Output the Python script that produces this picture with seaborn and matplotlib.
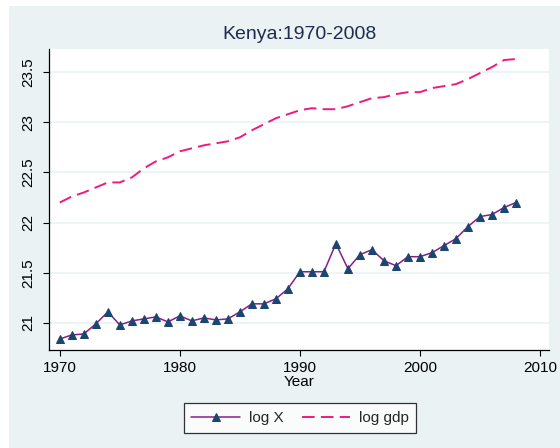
import matplotlib
matplotlib.use("Agg")
import matplotlib.pyplot as plt
import seaborn as sns
import pandas as pd
from matplotlib.patches import Rectangle

years = [1970, 1971, 1972, 1973, 1974, 1975, 1976, 1977, 1978, 1979,
         1980, 1981, 1982, 1983, 1984, 1985, 1986, 1987, 1988, 1989,
         1990, 1991, 1992, 1993, 1994, 1995, 1996, 1997, 1998, 1999,
         2000, 2001, 2002, 2003, 2004, 2005, 2006, 2007, 2008]
log_x = [20.84, 20.88, 20.89, 20.99, 21.11, 20.98, 21.02, 21.04, 21.06, 21.01,
         21.07, 21.02, 21.05, 21.03, 21.04, 21.11, 21.19, 21.19, 21.24, 21.34,
         21.51, 21.51, 21.51, 21.79, 21.54, 21.68, 21.73, 21.62, 21.57, 21.66,
         21.66, 21.70, 21.77, 21.84, 21.96, 22.06, 22.08, 22.15, 22.20]
log_gdp = [22.20, 22.26, 22.30, 22.35, 22.40, 22.40, 22.45, 22.54, 22.61, 22.65,
           22.71, 22.74, 22.77, 22.79, 22.81, 22.85, 22.92, 22.98, 23.04, 23.08,
           23.12, 23.14, 23.13, 23.13, 23.16, 23.20, 23.24, 23.25, 23.28, 23.30,
           23.30, 23.34, 23.36, 23.38, 23.43, 23.49, 23.55, 23.62, 23.63]
x_ticks = [1970, 1980, 1990, 2000, 2010]
y_ticks = [21, 21.5, 22, 22.5, 23, 23.5]
y_tick_labels = ["21", "21.5", "22", "22.5", "23", "23.5"]
title = "Kenya:1970-2008"
x_label = "Year"
series_names = ["log X", "log gdp"]

df = pd.DataFrame({"year": years, "logx": log_x, "loggdp": log_gdp})

sns.set_theme(style="white")
plt.rcParams["font.family"] = ["Liberation Sans", "DejaVu Sans"]

BG = "#EAF2F3"
fig = plt.figure(figsize=(5.6, 4.48), dpi=100, facecolor="white")
W, H = 560, 448
fig.patches.append(Rectangle((9 / W, 0), 1 - 9 / W, 1 - 6 / H, transform=fig.transFigure,
                             facecolor=BG, edgecolor="none", zorder=-10))

ax = fig.add_axes([49 / W, 1 - 350 / H, (549 - 49) / W, (350 - 49) / H])
ax.set_facecolor("white")

sns.lineplot(data=df, x="year", y="logx", ax=ax, color="#8B1C8B", linewidth=1.1,
             marker="^", markersize=6, markerfacecolor="#1A476F",
             markeredgecolor="#1A476F", label=series_names[0], zorder=3)
sns.lineplot(data=df, x="year", y="loggdp", ax=ax, color="#F0197D", linewidth=1.4,
             linestyle=(0, (6.5, 3.2)), label=series_names[1], zorder=3)

ax.set_xlim(1969.1, 2010.75)
ax.set_ylim(20.73, 23.73)
ax.set_xticks(x_ticks)
ax.set_yticks(y_ticks)
ax.set_yticklabels(y_tick_labels, rotation=90, va="center")
ax.grid(axis="y", color=BG, linewidth=1.2, zorder=0)
ax.grid(axis="x", visible=False)
for s in ["top", "right"]:
    ax.spines[s].set_visible(False)
for s in ["left", "bottom"]:
    ax.spines[s].set_color("black")
    ax.spines[s].set_linewidth(0.9)
ax.tick_params(axis="both", which="major", direction="out", length=4, width=0.8,
               color="black", labelsize=11, labelcolor="black", left=True, bottom=True)
ax.tick_params(axis="y", pad=6)
ax.tick_params(axis="x", pad=4)
ax.set_xlabel(x_label, fontsize=11, labelpad=0, color="black")
ax.set_ylabel("")
ax.set_title(title, fontsize=14, color="#1E2D4F", pad=7)

handles, labels = ax.get_legend_handles_labels()
ax.get_legend().remove()
leg = fig.legend(handles, labels, loc="center", bbox_to_anchor=(300 / W, 1 - 418 / H),
                 ncol=2, frameon=True, fancybox=False, edgecolor="black",
                 facecolor="white", fontsize=11, handlelength=3.2,
                 handletextpad=0.55, columnspacing=1.2, borderpad=0.5, numpoints=1)
leg.get_frame().set_linewidth(0.9)

fig.savefig("out.png", dpi=100, facecolor=fig.get_facecolor())
